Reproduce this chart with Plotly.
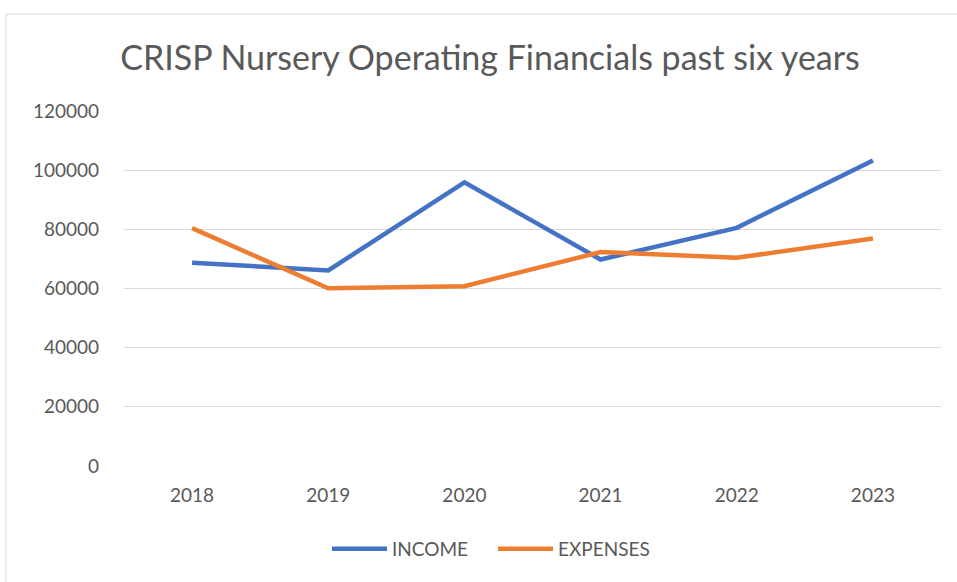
import plotly.graph_objects as go

years = ["2018", "2019", "2020", "2021", "2022", "2023"]
income = [68700, 66100, 95900, 69800, 80500, 103300]
expenses = [80400, 60100, 60800, 72300, 70400, 76900]

W, H = 957, 582
L, R, T, B = 124, 16, 111, 116
pw, ph = W - L - R, H - T - B

fig = go.Figure()
fig.add_trace(go.Scatter(x=years, y=income, name="INCOME", mode="lines",
                         line=dict(color="#4472C4", width=4.5)))
fig.add_trace(go.Scatter(x=years, y=expenses, name="EXPENSES", mode="lines",
                         line=dict(color="#ED7D31", width=4.5)))

fig.update_layout(
    width=W, height=H,
    margin=dict(l=L, r=R, t=T, b=B),
    paper_bgcolor="white", plot_bgcolor="white",
    font=dict(family="Lato, Carlito, sans-serif", color="#595959"),
    title=dict(text="CRISP Nursery Operating Financials past six years",
               x=490 / W, xanchor="center", y=1 - 58 / H, yanchor="middle",
               font=dict(size=34, color="#595959")),
    xaxis=dict(type="category", showgrid=False, zeroline=False, showline=False,
               ticks="", tickfont=dict(size=19, color="#595959"),
               ticklabelstandoff=16, range=[-0.5, 5.5]),
    yaxis=dict(range=[0, 120000], dtick=20000, showgrid=True, gridcolor="#D9D9D9",
               gridwidth=1, zeroline=False, showline=False, ticks="",
               tickfont=dict(size=19, color="#595959"), ticklabelstandoff=24,
               tickformat="d"),
    legend=dict(orientation="h", x=493 / W, xanchor="center", xref="container",
                y=1 - 549 / H, yanchor="middle", yref="container",
                font=dict(size=19, color="#595959"), entrywidth=96, itemwidth=55,
                traceorder="normal"),
    showlegend=True,
)

fig.add_shape(type="rect", xref="paper", yref="paper",
              x0=(6 - L) / pw, x1=(W + 20 - L) / pw,
              y0=-(H + 20 - (T + ph)) / ph, y1=(T + ph - 14) / ph,
              line=dict(color="#D9D9D9", width=1), layer="below")

fig.write_html("out.html", config={"displayModeBar": False},
               post_script="document.body.style.margin='0';document.body.style.overflow='hidden';")
